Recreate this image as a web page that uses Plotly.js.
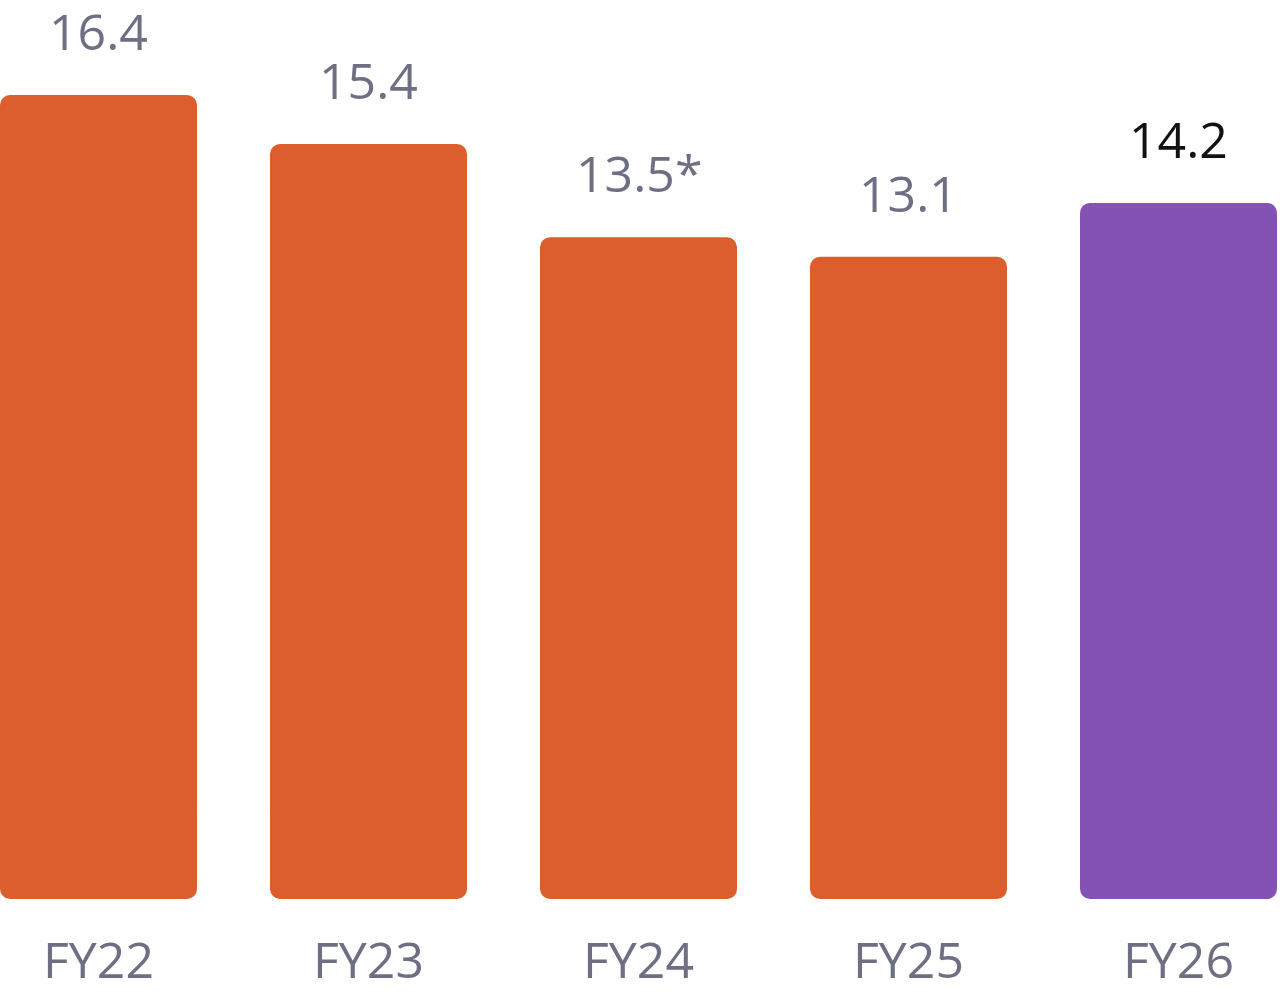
<!DOCTYPE html>
<html>
<head>
<meta charset="utf-8">
<script src="https://cdn.plot.ly/plotly-3.0.1.min.js"></script>
<style>
  html, body { margin: 0; padding: 0; background: #ffffff; }
  #chart { width: 1280px; height: 995px; }
</style>
</head>
<body>
<div id="chart"></div>
<script>
// Fiscal-year values
const years = ["FY22", "FY23", "FY24", "FY25", "FY26"];
const values = [16.4, 15.4, 13.5, 13.1, 14.2];
const valueLabels = ["16.4", "15.4", "13.5*", "13.1", "14.2"];
const barColors = ["#DC5E2C", "#DC5E2C", "#DC5E2C", "#DC5E2C", "#8452B4"];
const labelColors = ["#6f6f84", "#6f6f84", "#6f6f84", "#6f6f84", "#111111"];

// Each bar is drawn as two overlapping pieces so both ends get rounded corners:
// the main piece rounds its top, a short foot drawn downward rounds the bottom.
// The pieces overlap so their inner ends are hidden.
const splitAt = 1;
const footTop = 2;
const mainHeights = values.map(v => v - splitAt);

const traces = [
  {
    type: "bar",
    x: years,
    y: mainHeights,
    base: years.map(() => splitAt),
    marker: { color: barColors, cornerradius: 10, line: { width: 0 } },
    hoverinfo: "skip",
    showlegend: false
  },
  {
    type: "bar",
    x: years,
    y: years.map(() => -footTop),
    base: years.map(() => footTop),
    marker: { color: barColors, cornerradius: 10, line: { width: 0 } },
    hoverinfo: "skip",
    showlegend: false
  }
];

const annotations = years.map((yr, i) => ({
  x: yr,
  y: values[i],
  xref: "x",
  yref: "y",
  text: valueLabels[i],
  showarrow: false,
  yanchor: "bottom",
  yshift: 28,
  font: { family: "Open Sans, Noto Sans, sans-serif", size: 50, color: labelColors[i] }
}));

// 270 px per category, bars 197 px wide, first bar flush with the left edge
const catPx = 270;
const barPx = 197;
const xStart = -(barPx / 2) / catPx;

const layout = {
  width: 1280,
  height: 995,
  margin: { l: 0, r: 0, t: 0, b: 96 },
  paper_bgcolor: "#ffffff",
  plot_bgcolor: "#ffffff",
  barmode: "overlay",
  bargap: 1 - barPx / catPx,
  xaxis: {
    type: "category",
    range: [xStart, xStart + 1280 / catPx],
    showgrid: false,
    zeroline: false,
    showline: false,
    ticks: "",
    ticklabelstandoff: 28,
    tickfont: { family: "Open Sans, Noto Sans, sans-serif", size: 50, color: "#6f6f84" }
  },
  yaxis: {
    range: [0, 18.34],
    showgrid: false,
    zeroline: false,
    showline: false,
    showticklabels: false,
    ticks: ""
  },
  annotations: annotations
};

Plotly.newPlot("chart", traces, layout, { displayModeBar: false, staticPlot: true });
</script>
</body>
</html>
